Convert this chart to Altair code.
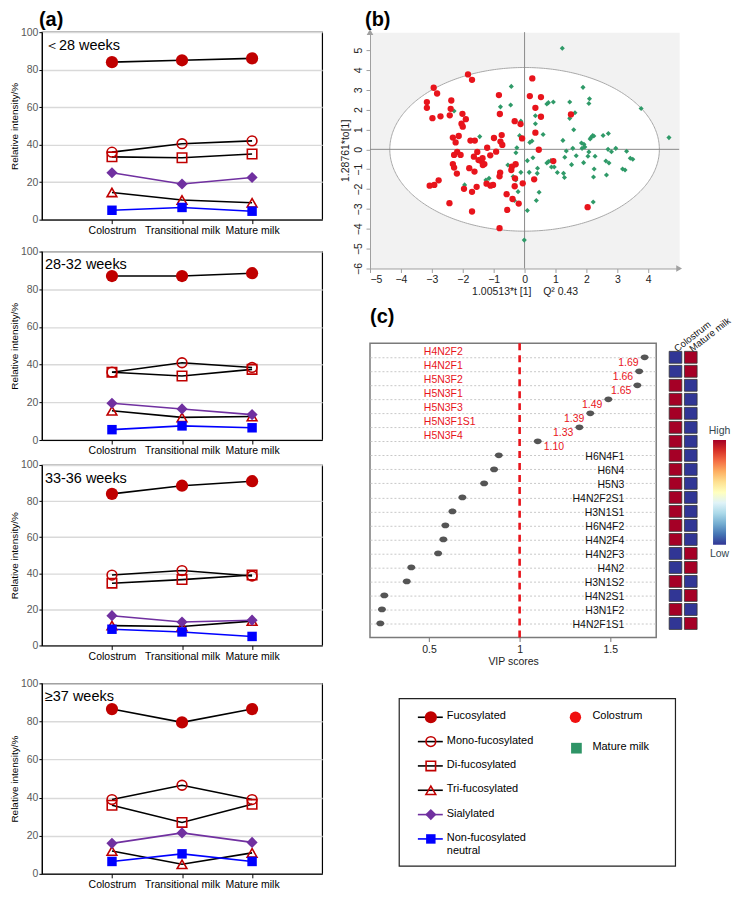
import altair as alt
import numpy as np
import pandas as pd

FONT = "Liberation Sans"

# ---------------- (a) data ----------------
STAGES = ["Colostrum", "Transitional milk", "Mature milk"]
SERIES = ["Fucosylated", "Mono-fucosylated", "Di-fucosylated",
          "Tri-fucosylated", "Sialylated", "Non-fucosylated neutral"]
PANEL_LABELS = ["＜28 weeks", "28-32 weeks", "33-36 weeks", "≥37 weeks"]
FUCOSYLATED = [[84, 85, 86], [87, 87, 88.5], [84, 88.5, 91], [86.5, 79.5, 86.5]]
MONO_FUCOSYLATED = [[36, 40.5, 42], [36, 41, 38.5], [39, 41.5, 38.5], [39, 46.5, 39]]
DI_FUCOSYLATED = [[33.5, 33, 35], [36, 34, 37.5], [34.5, 36.5, 39], [36, 27, 36.5]]
TRI_FUCOSYLATED = [[14.5, 10.5, 9], [15.5, 12, 12.5], [11, 10.5, 13.5], [12, 5, 11]]
SIALYLATED = [[25, 19, 22.5], [19.5, 16.5, 13.5], [16.5, 13, 14], [16, 21.5, 16.5]]
NON_FUCOSYLATED = [[5, 6.5, 4.5], [5.5, 7.5, 6.5], [9, 7.5, 5], [6.5, 10.5, 6.5]]
SERIES_VALUES = [FUCOSYLATED, MONO_FUCOSYLATED, DI_FUCOSYLATED,
                 TRI_FUCOSYLATED, SIALYLATED, NON_FUCOSYLATED]
PANEL_TAGS = ["(a)", "(b)", "(c)"]

# ---------------- (b) data ----------------
RED_X = [-1.83, -1.70, -2.94, -2.83, -3.16, -3.16, -2.37, -2.39, -2.72, -2.98, -2.42, -2.01, -1.90, -2.04,
         -2.00, -2.32, -2.13, -2.23, -1.75, -1.61, -2.18, -2.28, -2.07, -2.32, -2.28, -2.19, -2.78, -3.07,
         -2.92, -1.96, -1.70, -1.55, -2.43, -1.70, -1.79, -1.62, -1.53, -1.64, -1.49, -1.40, -1.36, -1.30,
         -1.35, -1.21, -1.11, -0.99, -0.92, -0.83, -0.80, -0.74, -0.78, -0.72, -0.79, -0.81, -1.23, -1.10,
         -1.02, -0.58, -0.41, -0.43, -0.29, -0.31, -0.32, -0.39, -0.19, -0.56, -0.81, -0.32, -0.08, -0.06,
         0.25, 0.17, 0.53, 0.35, 0.53, 0.35, 0.46, 0.31, 0.93, 1.50, 2.04, -0.13]
RED_Y = [3.77, 3.50, 3.10, 2.81, 2.38, 2.09, 2.46, 2.04, 1.66, 1.57, 1.71, 1.79, 1.52, 1.29,
         1.14, 0.59, 0.67, 0.35, 0.44, 0.44, -0.13, -0.28, -0.28, -0.74, -0.92, -1.22, -1.56, -1.83,
         -1.79, -1.99, -2.14, -1.89, -2.71, -3.13, -0.95, -1.12, -0.13, -0.37, -0.54, -0.59, -0.45, -0.74,
         -0.79, 0.08, -0.30, 0.57, -0.12, 2.73, 1.78, 0.72, 0.39, 0.22, -1.17, -1.36, -1.73, -1.83,
         -1.79, -2.26, -0.87, -1.04, -0.75, -1.46, -1.86, -2.50, -2.73, -3.05, -3.97, 1.42, 0.55, -1.71,
         3.57, 2.68, 2.63, 2.09, 1.64, 0.84, -0.02, -1.51, -0.59, 1.76, -2.91, 1.27]
GREEN_X = [-2.28, -1.45, -1.94, -1.25, -1.15, -0.43, -0.45, -0.78, -0.12, -0.12, -0.16, -0.25, -0.28,
           -0.54, -0.37, -0.28, -0.21, -0.33, 0.09, -0.01, -0.12, 0.35, 0.35, 0.60, 0.24, 0.17, 0.09,
           0.27, 0.15, 0.42, 0.41, 0.72, 0.77, 0.85, 0.47, 0.38, 0.72, 0.77, 0.93, 1.22, 1.89, 2.10,
           2.08, 1.46, 1.63, 1.46, 1.59, 1.24, 2.15, 2.20, 2.24, 2.12, 2.54, 2.71, 3.77, 4.67, 1.84,
           1.92, 1.95, 1.86, 1.56, 1.35, 1.30, 1.67, 2.08, 2.05, 2.28, 1.91, 1.52, 2.25, 2.23, 2.65,
           2.70, 2.81, 2.95, 3.30, 2.63, 2.73, 3.17, 3.25, 3.42, 3.50, 0.87, 0.96, 1.06, 1.26, 1.29, 2.22]
GREEN_Y = [1.93, 0.64, -1.79, -1.54, -1.46, 3.17, 2.23, 2.14, 1.42, 1.26, 0.69, 0.08, -0.17,
           -0.79, -1.37, -1.54, -2.13, -2.58, -3.08, -4.57, -1.16, 1.69, 1.29, 0.75, 0.42, 0.35, -0.57,
           -0.42, -1.16, -0.95, -1.21, -0.69, -0.62, -0.57, -2.16, -2.58, 2.28, 2.35, 2.38, 5.09, 3.12, 2.55,
           2.31, 2.38, 1.84, 1.56, 0.99, 0.45, 0.60, 0.69, 0.67, 0.52, 0.70, 0.80, 2.06, 0.59, 0.32,
           0.25, 0.12, 0.05, 0.05, -0.08, -0.40, -0.32, -0.13, -0.35, -0.35, -0.67, -0.77, -0.99, -1.39, -1.29,
           0.00, -0.12, 0.05, -0.10, -0.59, -0.69, -0.99, -1.04, -0.45, -0.50, -0.89, -0.89, -1.17, -1.21, -1.42, -2.65]
GROUPS = ["Colostrum", "Mature milk"]
ELLIPSE_A = 4.36
ELLIPSE_B = 4.12
B_X_DOMAIN = [-5, 5]
B_Y_DOMAIN = [-6, 5.9]

# ---------------- (c) data ----------------
GLYCANS = ["H4N2F2", "H4N2F1", "H5N3F2", "H5N3F1", "H5N3F3", "H5N3F1S1", "H5N3F4",
           "H6N4F1", "H6N4", "H5N3", "H4N2F2S1", "H3N1S1", "H6N4F2", "H4N2F4", "H4N2F3",
           "H4N2", "H3N1S2", "H4N2S1", "H3N1F2", "H4N2F1S1"]
VIP = [1.69, 1.66, 1.65, 1.49, 1.39, 1.33, 1.10, 0.885, 0.859, 0.804, 0.684, 0.629, 0.590,
       0.579, 0.550, 0.402, 0.377, 0.253, 0.240, 0.231]
VIP_THRESHOLD = 1.0
VIP_DOMAIN = [0.174, 1.754]
HEAT_SAMPLES = ["Colostrum", "Mature milk"]
HEAT_COLOSTRUM = [0, 0, 1, 1, 1, 1, 1, 1, 1, 1, 1, 1, 1, 1, 0, 0, 1, 0, 1, 0]
HEAT_MATURE = [1, 1, 0, 0, 0, 0, 0, 0, 0, 0, 0, 0, 0, 0, 1, 1, 0, 1, 0, 1]
COLORBAR_LABELS = ["High", "Low"]

LEGEND_SERIES_LABELS = ["Fucosylated", "Mono-fucosylated", "Di-fucosylated",
                        "Tri-fucosylated", "Sialylated", "Non-fucosylated\nneutral"]

# ---------------- styles ----------------
STYLE = {
    "Fucosylated": dict(shape="circle", size=150, filled=True, color="#c00000", line="#000000"),
    "Mono-fucosylated": dict(shape="circle", size=95, filled=False, color="#c00000", line="#000000"),
    "Di-fucosylated": dict(shape="square", size=90, filled=False, color="#c00000", line="#000000"),
    "Tri-fucosylated": dict(shape="triangle-up", size=95, filled=False, color="#c00000", line="#000000"),
    "Sialylated": dict(shape="diamond", size=125, filled=True, color="#7030a0", line="#7030a0"),
    "Non-fucosylated neutral": dict(shape="square", size=90, filled=True, color="#0000ff", line="#0000ff"),
}
RDYLBU = ["#a50026", "#d73027", "#f46d43", "#fdae61", "#fee090", "#ffffbf",
          "#e0f3f8", "#abd9e9", "#74add1", "#4575b4", "#313695"]
RED = "#e8141c"
GREEN = "#2f9a68"
A_W = 281
A_H = [188, 189, 181, 191]
B_W = 310
B_H = 237
VIP_W = 287
VIP_H = 295


def tag(text, dx, dy):
    """Bold panel letter, drawn above the plot area."""
    return alt.Chart(pd.DataFrame({"tag": [text]})).mark_text(
        align="left", baseline="alphabetic", fontSize=20, fontWeight="bold", color="#000",
        font=FONT).encode(text="tag:N", x=alt.value(dx), y=alt.value(dy))


def a_panel(i, height, with_tag=False):
    rows = []
    for s, vals in zip(SERIES, SERIES_VALUES):
        for k, st in enumerate(STAGES):
            rows.append({"stage": st, "series": s, "value": vals[i][k]})
    df = pd.DataFrame(rows)
    x = alt.X("stage:N", sort=STAGES, scale=alt.Scale(type="point", padding=1, domain=STAGES),
              axis=alt.Axis(title=None, labelAngle=0, labelFontSize=10.5, labelColor="#000",
                            domainColor="#000", tickColor="#000", tickSize=4, labelPadding=2,
                            grid=False))
    y = alt.Y("value:Q", scale=alt.Scale(domain=[0, 100], nice=False),
              axis=alt.Axis(values=[0, 20, 40, 60, 80, 100], title="Relative intensity/%",
                            titleFontSize=10, titleFontWeight="normal", titleColor="#000",
                            titlePadding=1, labelColor="#595959", labelFontSize=10.5,
                            labelPadding=1, tickSize=3, tickColor="#000", domainColor="#000",
                            grid=True, gridColor="#d9d9d9", gridWidth=1.4))
    base = alt.Chart(df).encode(x=x, y=y)
    layers = []
    for s in SERIES:
        st = STYLE[s]
        layers.append(base.transform_filter(alt.datum.series == s)
                      .mark_line(color=st["line"], strokeWidth=1.6))
    for s in SERIES:
        st = STYLE[s]
        if st["filled"]:
            m = base.transform_filter(alt.datum.series == s).mark_point(
                shape=st["shape"], size=st["size"], filled=True, color=st["color"], opacity=1)
        else:
            m = base.transform_filter(alt.datum.series == s).mark_point(
                shape=st["shape"], size=st["size"], filled=False, color=st["color"],
                strokeWidth=1.6, opacity=1)
        layers.append(m)
    label = alt.Chart(pd.DataFrame({"label": [PANEL_LABELS[i]]})).mark_text(
        align="left", baseline="alphabetic", fontSize=14.5, color="#000").encode(
        text="label:N", x=alt.value(3), y=alt.value(18))
    layers.append(label)
    if with_tag:
        layers.append(tag(PANEL_TAGS[0], -3, -6))
    return alt.layer(*layers).properties(
        width=A_W, height=height, view=alt.ViewBackground(stroke="#000", strokeWidth=1.2))


# ---------------- (b) ----------------
axis_b_common = dict(domainColor="#a0a0a0", tickColor="#a0a0a0", tickSize=4, labelColor="#222",
                     labelFontSize=10.5, titleFontSize=10.5, titleFontWeight="normal",
                     titleColor="#222", grid=False)
bx = alt.X("x:Q", scale=alt.Scale(domain=B_X_DOMAIN, nice=False, zero=False),
           axis=alt.Axis(values=list(range(-5, 5)), format="d",
                         title="1.00513*t [1]\u00a0\u00a0\u00a0\u00a0Q\u00b2 0.43",
                         labelPadding=2, titlePadding=2, **axis_b_common))
by = alt.Y("y:Q", scale=alt.Scale(domain=B_Y_DOMAIN, nice=False, zero=False),
           axis=alt.Axis(values=list(range(-6, 6)), format="d", title="1.28761*to[1]",
                         labelAngle=270, labelAlign="center", labelBaseline="bottom",
                         labelPadding=3, titlePadding=3, **axis_b_common))
ell_t = np.linspace(0, np.pi, 181)
ell_df = pd.DataFrame({"x": ELLIPSE_A * np.cos(ell_t), "y": ELLIPSE_B * np.sin(ell_t),
                       "y2": -ELLIPSE_B * np.sin(ell_t)})
ellipse = alt.Chart(ell_df).mark_area(fill="white", fillOpacity=1, stroke="#a8a8a8",
                                       strokeWidth=1).encode(x=bx, y=by, y2="y2:Q")
vline = alt.Chart(pd.DataFrame({"x": [0]})).mark_rule(color="#8a8a8a", strokeWidth=1).encode(x=bx)
hline = alt.Chart(pd.DataFrame({"y": [0]})).mark_rule(color="#8a8a8a", strokeWidth=1).encode(y=by)
green_pts = alt.Chart(pd.DataFrame({"x": GREEN_X, "y": GREEN_Y})).mark_point(
    shape="diamond", size=26, filled=True, color=GREEN, opacity=1).encode(x=bx, y=by)
red_pts = alt.Chart(pd.DataFrame({"x": RED_X, "y": RED_Y})).mark_point(
    shape="circle", size=40, filled=True, color=RED, opacity=1).encode(x=bx, y=by)
arrow_up = alt.Chart(pd.DataFrame({"x": [B_X_DOMAIN[0]], "y": [B_Y_DOMAIN[1]]})).mark_point(
    shape="triangle-up", size=45, filled=True, color="#a0a0a0", opacity=1).encode(x=bx, y=by)
arrow_right = alt.Chart(pd.DataFrame({"x": [B_X_DOMAIN[1]], "y": [B_Y_DOMAIN[0]]})).mark_point(
    shape="triangle-right", size=45, filled=True, color="#a0a0a0", opacity=1).encode(x=bx, y=by)
chart_b = alt.layer(ellipse, vline, hline, green_pts, red_pts, arrow_up, arrow_right,
                    tag(PANEL_TAGS[1], -5, -6)).properties(
    width=B_W, height=B_H, view=alt.ViewBackground(fill="#f2f2f2", stroke="transparent"))

# ---------------- (c) ----------------
vdf = pd.DataFrame({"glycan": GLYCANS, "vip": VIP})
vx = alt.X("vip:Q", scale=alt.Scale(domain=VIP_DOMAIN, nice=False, zero=False),
           axis=alt.Axis(values=[0.5, 1, 1.5], format="~g", title="VIP scores",
                         titleFontWeight="normal", titleFontSize=10.5, titleColor="#222",
                         titlePadding=2, labelFontSize=10.5, labelColor="#222", tickSize=4,
                         tickColor="#777", domain=False, grid=False, labelPadding=3))
vy = alt.Y("glycan:N", sort=GLYCANS, scale=alt.Scale(type="point", padding=1),
           axis=alt.Axis(labels=False, ticks=False, domain=False, title=None, grid=True,
                         gridDash=[2, 2], gridColor="#c8c8c8", minExtent=0))
DOT_PATH = "M-1,0A1,0.72,0,1,0,1,0A1,0.72,0,1,0,-1,0Z"
thr = alt.Chart(pd.DataFrame({"vip": [VIP_THRESHOLD]})).mark_rule(
    color=RED, strokeWidth=2.6, strokeDash=[7, 5]).encode(x=vx)
dots = alt.Chart(vdf).mark_point(shape=DOT_PATH, size=64, filled=True, color="#555555",
                                 opacity=1).encode(x=vx, y=vy)
sig = alt.Chart(vdf).transform_filter(alt.datum.vip > VIP_THRESHOLD)
names_red = sig.mark_text(align="left", baseline="middle", fontSize=10.5, color=RED, dy=-5).encode(
    x=alt.value(54), y=vy, text="glycan:N")
names_black = alt.Chart(vdf).transform_filter(alt.datum.vip <= VIP_THRESHOLD).mark_text(
    align="right", baseline="middle", fontSize=10.5, color="#111", dy=2).encode(
    x=alt.value(255), y=vy, text="glycan:N")
vals_left = sig.transform_filter(alt.datum.vip >= 1.2).mark_text(
    align="right", baseline="middle", fontSize=10.5, color=RED, dx=-6, dy=6).encode(
    x=vx, y=vy, text=alt.Text("vip:Q", format=".2f"))
vals_right = sig.transform_filter(alt.datum.vip < 1.2).mark_text(
    align="left", baseline="middle", fontSize=10.5, color=RED, dx=6, dy=6).encode(
    x=vx, y=vy, text=alt.Text("vip:Q", format=".2f"))
chart_vip = alt.layer(thr, dots, names_red, names_black, vals_left, vals_right,
                      tag(PANEL_TAGS[2], 0, -20)).properties(
    width=VIP_W, height=VIP_H, view=alt.ViewBackground(stroke="#7a7a7a", strokeWidth=1.5))

heat_df = pd.DataFrame({
    "glycan": GLYCANS + GLYCANS,
    "sample": [HEAT_SAMPLES[0]] * len(GLYCANS) + [HEAT_SAMPLES[1]] * len(GLYCANS),
    "level": HEAT_COLOSTRUM + HEAT_MATURE,
})
chart_heat = alt.Chart(heat_df).mark_rect(stroke="#333", strokeWidth=0.8).encode(
    x=alt.X("sample:N", sort=HEAT_SAMPLES, scale=alt.Scale(paddingInner=0.17, paddingOuter=0),
            axis=alt.Axis(orient="top", title=None, labelAngle=322, labelAlign="left",
                          labelBaseline="middle", domain=False, ticks=False, labelPadding=-6,
                          labelFontSize=9.5, labelColor="#111")),
    y=alt.Y("glycan:N", sort=GLYCANS, scale=alt.Scale(paddingInner=0.15, paddingOuter=0.575),
            axis=None),
    color=alt.Color("level:Q", scale=alt.Scale(domain=[0, 1], range=[RDYLBU[-1], RDYLBU[0]]),
                    legend=None),
).properties(width=28, height=VIP_H, view=alt.ViewBackground(stroke="transparent"))

# colour bar (High / Low)
cbar_df = pd.DataFrame({"k": ["bar"], "lo": [0.0], "hi": [1.0]})
cbar_lab = pd.DataFrame({"k": ["bar", "bar"], "label": COLORBAR_LABELS, "pos": [1.0, 0.0]})
cbx = alt.X("k:N", axis=None, scale=alt.Scale(paddingInner=0, paddingOuter=0))
cby = alt.Y("lo:Q", axis=None, scale=alt.Scale(domain=[0, 1], range=[202, 97]))
gradient = alt.LinearGradient(
    gradient="linear", x1=0, x2=0, y1=0, y2=1,
    stops=[alt.GradientStop(color=c, offset=k / (len(RDYLBU) - 1)) for k, c in enumerate(RDYLBU)])
cbar_rect = alt.Chart(cbar_df).mark_rect(color=gradient).encode(x=cbx, y=cby, y2="hi:Q")
cby_lab = alt.Y("pos:Q", axis=None, scale=alt.Scale(domain=[0, 1], range=[202, 97]))
cbar_high = alt.Chart(cbar_lab).transform_filter(alt.datum.pos == 1).mark_text(
    fontSize=10.5, color="#33474f", baseline="bottom", dy=-4).encode(x=cbx, y=cby_lab, text="label:N")
cbar_low = alt.Chart(cbar_lab).transform_filter(alt.datum.pos == 0).mark_text(
    fontSize=10.5, color="#33474f", baseline="top", dy=4).encode(x=cbx, y=cby_lab, text="label:N")
chart_cbar = alt.layer(cbar_rect, cbar_high, cbar_low).properties(
    width=13, height=220, view=alt.ViewBackground(stroke="transparent"))

c_row = alt.hconcat(chart_vip,
                    alt.hconcat(chart_heat, chart_cbar, spacing=16, bounds="flush"),
                    spacing=11)

# ---------------- legend box ----------------
leg_left = pd.DataFrame({"entry": SERIES, "label": LEGEND_SERIES_LABELS})
leg_right = pd.DataFrame({"entry": GROUPS})
ly = alt.Y("entry:N", sort=SERIES, scale=alt.Scale(type="point", domain=SERIES, range=[19, 141],
                                                   padding=0), axis=None)
ry = alt.Y("entry:N", sort=GROUPS, scale=alt.Scale(type="point", domain=GROUPS, range=[19, 50],
                                                   padding=0), axis=None)
leg_layers = []
for s in SERIES:
    st = STYLE[s]
    leg_layers.append(alt.Chart(leg_left).transform_filter(alt.datum.entry == s).mark_rule(
        color=st["line"], strokeWidth=1.6).encode(x=alt.value(19), x2=alt.value(44), y=ly))
for s in SERIES:
    st = STYLE[s]
    kw = dict(shape=st["shape"], size=st["size"], filled=st["filled"], color=st["color"], opacity=1)
    if not st["filled"]:
        kw["strokeWidth"] = 1.6
    leg_layers.append(alt.Chart(leg_left).transform_filter(alt.datum.entry == s).mark_point(**kw)
                      .encode(x=alt.value(32), y=ly))
leg_layers.append(alt.Chart(leg_left).mark_text(align="left", baseline="top", dy=-7, fontSize=11,
                                                 lineBreak="\n", color="#000").encode(
    x=alt.value(48), y=ly, text="label:N"))
leg_layers.append(alt.Chart(leg_right).transform_filter(alt.datum.entry == GROUPS[0]).mark_point(
    shape="circle", size=130, filled=True, color="#f01010", opacity=1).encode(x=alt.value(177), y=ry))
leg_layers.append(alt.Chart(leg_right).transform_filter(alt.datum.entry == GROUPS[1]).mark_point(
    shape="square", size=115, filled=True, color="#2e9466", opacity=1).encode(x=alt.value(178), y=ry))
leg_layers.append(alt.Chart(leg_right).mark_text(align="left", baseline="top", dy=-7, fontSize=11,
                                                  color="#000").encode(
    x=alt.value(194), y=ry, text="entry:N"))
legend_box = alt.layer(*leg_layers).resolve_scale(y="independent").properties(
    width=277, height=168, view=alt.ViewBackground(stroke="#222", strokeWidth=1.2))

spacer = alt.Chart(pd.DataFrame({"v": [0]})).mark_point(opacity=0).encode(
    x=alt.X("v:Q", axis=None), y=alt.Y("v:Q", axis=None)).properties(
    width=1, height=1, view=alt.ViewBackground(stroke="transparent"))
legend_row = alt.hconcat(spacer, legend_box, spacing=24)

# ---------------- assembly ----------------
a1 = a_panel(0, A_H[0], with_tag=True)
a2 = a_panel(1, A_H[1])
a3 = a_panel(2, A_H[2])
a4 = a_panel(3, A_H[3])
left_col = alt.vconcat(alt.vconcat(a1, a2, spacing=8), alt.vconcat(a3, a4, spacing=14), spacing=1)
right_col = alt.vconcat(alt.vconcat(chart_b, c_row, spacing=8), legend_row, spacing=27)

chart = alt.hconcat(left_col, right_col, spacing=16).properties(padding=0).configure(
    font=FONT).configure_axis(labelFont=FONT, titleFont=FONT).configure_title(
    font=FONT).configure_text(font=FONT).configure_legend(labelFont=FONT, titleFont=FONT)

chart.save("out.html", embed_options={"renderer": "svg", "actions": False})
